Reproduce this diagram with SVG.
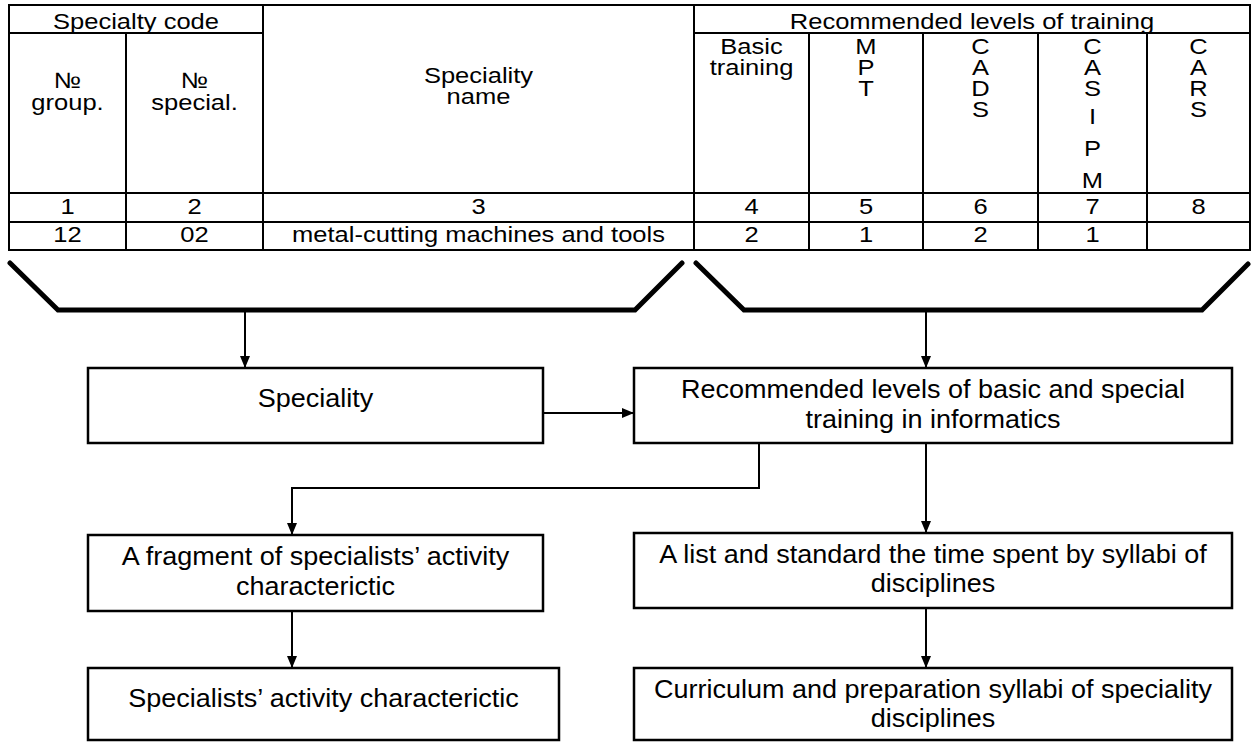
<svg xmlns="http://www.w3.org/2000/svg" width="1254" height="743" viewBox="0 0 1254 743">
<style>
  .tt { font-family: "Liberation Sans", Arial, sans-serif; font-size: 22px; text-anchor: middle; fill: #000; }
  .bt { font-family: "Liberation Sans", Arial, sans-serif; font-size: 25px; text-anchor: middle; fill: #000; }
  .grid { stroke: #000; stroke-width: 2; fill: none; }
  .box { stroke: #000; stroke-width: 2.5; fill: #fff; }
  .brace { stroke: #000; stroke-width: 5; fill: none; stroke-linecap: round; stroke-linejoin: miter; }
  .conn { stroke: #000; stroke-width: 2; fill: none; }
</style>
<defs>
  <marker id="arr" viewBox="0 0 12 10" refX="12" refY="5" markerWidth="12" markerHeight="10" markerUnits="userSpaceOnUse" orient="auto">
    <path d="M0,0 L12,5 L0,10 Z" fill="#000"/>
  </marker>
</defs>
<rect width="1254" height="743" fill="#fff"/>

<g id="table">
  <rect class="grid" x="9" y="5" width="1241" height="245"/>
  <path class="grid" d="M9,33 H263 M694,33 H1250 M9,193 H1250 M9,222 H1250 M126,33 V250 M263,5 V250 M694,5 V250 M809,33 V250 M923,33 V250 M1038,33 V250 M1147,33 V250"/>
  <g class="tt">
    <text transform="translate(136 0) scale(1.16 1)" x="0" y="29">Specialty code</text>
    <text transform="translate(972 0) scale(1.16 1)" x="0" y="29">Recommended levels of training</text>
    <text transform="translate(67.5 0) scale(1.16 1)"><tspan x="0" y="88">№</tspan><tspan x="0" y="110">group.</tspan></text>
    <text transform="translate(194.5 0) scale(1.16 1)"><tspan x="0" y="88">№</tspan><tspan x="0" y="110">special.</tspan></text>
    <text transform="translate(478.5 0) scale(1.16 1)"><tspan x="0" y="83">Speciality</tspan><tspan x="0" y="104">name</tspan></text>
    <text transform="translate(751.5 0) scale(1.16 1)"><tspan x="0" y="54">Basic</tspan><tspan x="0" y="75">training</tspan></text>
    <text transform="translate(866 0) scale(1.16 1)"><tspan x="0" y="54">M</tspan><tspan x="0" y="75">P</tspan><tspan x="0" y="96">T</tspan></text>
    <text transform="translate(980.5 0) scale(1.16 1)"><tspan x="0" y="54">C</tspan><tspan x="0" y="75">A</tspan><tspan x="0" y="96">D</tspan><tspan x="0" y="117">S</tspan></text>
    <text transform="translate(1092.5 0) scale(1.16 1)"><tspan x="0" y="54">C</tspan><tspan x="0" y="75">A</tspan><tspan x="0" y="96">S</tspan><tspan x="0" y="124">I</tspan><tspan x="0" y="156">P</tspan><tspan x="0" y="188">M</tspan></text>
    <text transform="translate(1198.5 0) scale(1.16 1)"><tspan x="0" y="54">C</tspan><tspan x="0" y="75">A</tspan><tspan x="0" y="96">R</tspan><tspan x="0" y="117">S</tspan></text>
    <text transform="translate(67.5 0) scale(1.16 1)" x="0" y="214">1</text>
    <text transform="translate(194.5 0) scale(1.16 1)" x="0" y="214">2</text>
    <text transform="translate(478.5 0) scale(1.16 1)" x="0" y="214">3</text>
    <text transform="translate(751.5 0) scale(1.16 1)" x="0" y="214">4</text>
    <text transform="translate(866 0) scale(1.16 1)" x="0" y="214">5</text>
    <text transform="translate(980.5 0) scale(1.16 1)" x="0" y="214">6</text>
    <text transform="translate(1092.5 0) scale(1.16 1)" x="0" y="214">7</text>
    <text transform="translate(1198.5 0) scale(1.16 1)" x="0" y="214">8</text>
    <text transform="translate(67.5 0) scale(1.16 1)" x="0" y="242">12</text>
    <text transform="translate(194.5 0) scale(1.16 1)" x="0" y="242">02</text>
    <text transform="translate(478.5 0) scale(1.16 1)" x="0" y="242">metal-cutting machines and tools</text>
    <text transform="translate(751.5 0) scale(1.16 1)" x="0" y="242">2</text>
    <text transform="translate(866 0) scale(1.16 1)" x="0" y="242">1</text>
    <text transform="translate(980.5 0) scale(1.16 1)" x="0" y="242">2</text>
    <text transform="translate(1092.5 0) scale(1.16 1)" x="0" y="242">1</text>
  </g>
</g>

<g id="brackets">
  <polyline class="brace" points="10,263 58,310 635,310 682,263"/>
  <polyline class="brace" points="696,263 744,310 1202,310 1248,264"/>
</g>

<g id="connectors">
  <path class="conn" d="M245,310 V368" marker-end="url(#arr)"/>
  <path class="conn" d="M926,310 V368" marker-end="url(#arr)"/>
  <path class="conn" d="M543,413 H634" marker-end="url(#arr)"/>
  <path class="conn" d="M759,443 V488 H292 V535" marker-end="url(#arr)"/>
  <path class="conn" d="M926,443 V533" marker-end="url(#arr)"/>
  <path class="conn" d="M292,611 V668" marker-end="url(#arr)"/>
  <path class="conn" d="M926,608 V668" marker-end="url(#arr)"/>
</g>

<g id="speciality">
  <rect class="box" x="88" y="368" width="455" height="75"/>
  <text class="bt" transform="translate(315.5 0) scale(1.08 1)" x="0" y="407">Speciality</text>
</g>
<g id="recommended">
  <rect class="box" x="634" y="368" width="598" height="75"/>
  <text class="bt" transform="translate(933 0) scale(1.08 1)"><tspan x="0" y="398">Recommended levels of basic and special</tspan><tspan x="0" y="428">training in informatics</tspan></text>
</g>
<g id="fragment">
  <rect class="box" x="88" y="535" width="455" height="76"/>
  <text class="bt" transform="translate(315.5 0) scale(1.08 1)"><tspan x="0" y="565">A fragment of specialists’ activity</tspan><tspan x="0" y="595">characterictic</tspan></text>
</g>
<g id="list">
  <rect class="box" x="634" y="533" width="598" height="75"/>
  <text class="bt" transform="translate(933 0) scale(1.08 1)"><tspan x="0" y="563">A list and standard the time spent by syllabi of</tspan><tspan x="0" y="592">disciplines</tspan></text>
</g>
<g id="activity">
  <rect class="box" x="88" y="668" width="471" height="72"/>
  <text class="bt" transform="translate(323.5 0) scale(1.08 1)" x="0" y="707">Specialists’ activity characterictic</text>
</g>
<g id="curriculum">
  <rect class="box" x="634" y="668" width="598" height="72"/>
  <text class="bt" transform="translate(933 0) scale(1.08 1)"><tspan x="0" y="698">Curriculum and preparation syllabi of speciality</tspan><tspan x="0" y="727">disciplines</tspan></text>
</g>
</svg>
